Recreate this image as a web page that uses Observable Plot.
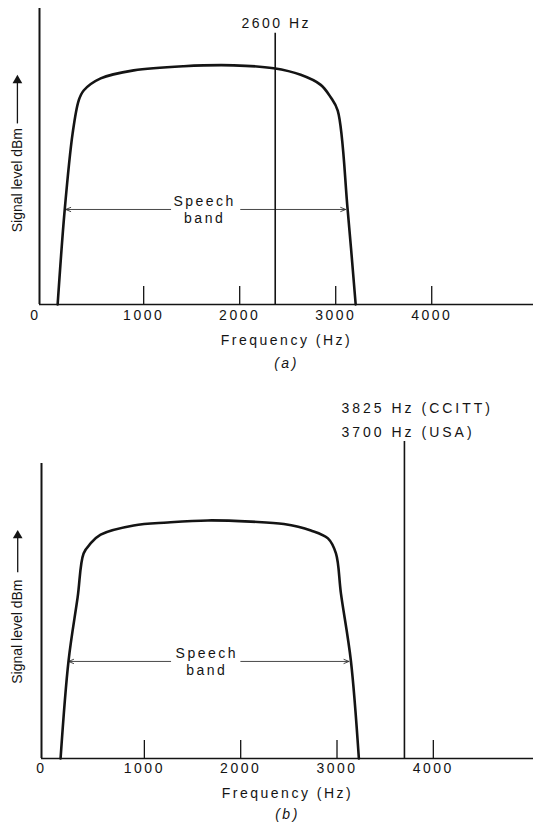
<!DOCTYPE html>
<html>
<head>
<meta charset="utf-8">
<script src="https://cdn.jsdelivr.net/npm/d3@7"></script>
<script src="https://cdn.jsdelivr.net/npm/@observablehq/plot@0.6"></script>
<style>
  html, body { margin: 0; padding: 0; background: #fff; }
  #chart svg { display: block; }
</style>
</head>
<body>
<div id="chart"></div>
<script>
// ---- Panel (a): speech band with in-band 2600 Hz signalling tone ----
const freqA  = [104, 177, 260, 323, 375, 552, 896, 1417, 1938, 2354, 2635, 2844, 2948, 3021, 3125, 3208];
const levelA = [0, 31.8, 57.8, 68.9, 72.3, 76.4, 79.1, 80.5, 80.8, 79.8, 77.6, 74.2, 70.0, 65.5, 31.8, 0];
const toneFreqA  = [2370];
const toneLevelA = [91.6];
const toneLabelA = ["2600 Hz"];
const bandArrowFromA = [1281, 2010];
const bandArrowToA   = [188, 3104];
const bandLevelA = 32.1;
const bandLabelFreqA = 1635;

// ---- Panel (b): speech band with out-of-band signalling tone ----
const freqB  = [130, 213, 307, 369, 442, 546, 889, 1242, 1658, 2105, 2448, 2729, 2906, 2989, 3041, 3144, 3227];
const levelB = [0, 33.2, 54.6, 69.5, 72.9, 75.9, 79.0, 80.0, 80.7, 80.3, 79.5, 77.3, 74.6, 69.5, 55.9, 33.2, 0];
const toneFreqB  = [3700];
const toneLevelB = [107.5];
const toneLabelB = ["3825 Hz (CCITT)\n3700 Hz (USA)"];
const bandArrowFromB = [1273, 2001];
const bandArrowToB   = [213, 3124];
const bandLevelB = 32.9;
const bandLabelFreqB = 1648;

// ---- shared axis text ----
const tickValues = [1000, 2000, 3000, 4000];
const tickLabels = ["1000", "2000", "3000", "4000"];
const zeroLabel = "0";
const xTitle = "Frequency (Hz)";
const yTitle = "Signal level dBm";
const bandLabel = "Speech\nband";
const panelLabels = ["(a)", "(b)"];

const INK = "#141414";
const FONT = "'Liberation Sans', Arial, Helvetica, sans-serif";

function panel(cfg) {
  const curve = cfg.freq.map((f, i) => ({f, v: cfg.level[i]}));
  const tones = cfg.toneFreq.map((f, i) => ({f, v: cfg.toneLevel[i], label: cfg.toneLabel[i]}));
  const arrows = cfg.arrowFrom.map((f, i) => ({x1: f, x2: cfg.arrowTo[i], v: cfg.bandLevel}));
  const xs = cfg.xDomain[0];
  const yLabX = -315;

  const svg = Plot.plot({
    width: 533,
    height: cfg.height,
    marginLeft: cfg.marginLeft,
    marginRight: 0,
    marginTop: cfg.marginTop,
    marginBottom: cfg.marginBottom,
    x: {domain: cfg.xDomain, axis: null},
    y: {domain: [0, 100], axis: null},
    style: {fontFamily: FONT, fontSize: "14px", color: INK, letterSpacing: "2.5px", background: "#fff", overflow: "visible"},
    marks: [
      // axis frame
      Plot.ruleX([xs], {y1: 0, y2: 100, stroke: INK, strokeWidth: 2}),
      Plot.ruleY([0], {stroke: INK, strokeWidth: 1.6}),
      Plot.ruleX(tickValues, {y1: 0, y2: 6.1, stroke: INK, strokeWidth: 1.3}),
      Plot.text(tickLabels, {x: (d, i) => tickValues[i], text: d => d, frameAnchor: "bottom", dy: cfg.tickDy, fill: INK}),
      Plot.text([zeroLabel], {x: xs, text: d => d, frameAnchor: "bottom", dy: cfg.tickDy, dx: cfg.zeroDx, fill: INK}),
      Plot.text([xTitle], {text: d => d, frameAnchor: "bottom", dy: cfg.titleDy, fill: INK}),
      Plot.text([cfg.panelLabel], {text: d => d, frameAnchor: "bottom", dy: cfg.captionDy, fill: INK, fontStyle: "italic"}),
      // y label with arrow
      Plot.text([yTitle], {x: yLabX, y: cfg.yLabLevel, text: d => d, rotate: -90, fontSize: 14, fill: INK}),
      Plot.ruleX([yLabX], {y1: cfg.yArrow[0], y2: cfg.yArrow[1], stroke: INK, strokeWidth: 1.3}),
      Plot.dot([yLabX], {x: d => d, y: cfg.yArrow[1], symbol: "triangle", r: 3.6, fill: INK, stroke: "none"}),
      // speech band arrows
      Plot.arrow(arrows, {x1: "x1", x2: "x2", y1: "v", y2: "v", stroke: "#333", strokeWidth: 0.9, headLength: 9, headAngle: 45}),
      Plot.text([bandLabel], {x: cfg.bandLabelFreq, y: cfg.bandLevel, text: d => d, lineHeight: 1.2, fill: INK}),
      // spectrum envelope
      Plot.line(curve, {x: "f", y: "v", curve: "catmull-rom", stroke: INK, strokeWidth: 2.6, strokeLinejoin: "round"}),
      // signalling tone
      Plot.ruleX(tones, {x: "f", y1: 0, y2: "v", stroke: INK, strokeWidth: 1.6}),
      Plot.text(tones, {x: "f", y: "v", text: "label", dy: cfg.toneDy, dx: cfg.toneDx, textAnchor: cfg.toneAnchor, lineHeight: cfg.toneLineHeight, fill: INK})
    ]
  });
  d3.select(svg).selectAll("text").filter(function() { return this.textContent === yTitle; }).style("letter-spacing", "0px");
  if (cfg.toneSpacing) {
    d3.select(svg).selectAll("text").filter(function() { return this.textContent.includes("CCITT"); }).style("letter-spacing", cfg.toneSpacing);
  }
  return svg;
}

const root = document.getElementById("chart");
root.append(panel({
  height: 380, marginLeft: 39, marginTop: 8, marginBottom: 76,
  xDomain: [-85, 5060],
  freq: freqA, level: levelA,
  toneFreq: toneFreqA, toneLevel: toneLevelA, toneLabel: toneLabelA,
  toneDy: -10, toneDx: 1, toneAnchor: "middle", toneLineHeight: 1,
  arrowFrom: bandArrowFromA, arrowTo: bandArrowToA, bandLevel: bandLevelA, bandLabelFreq: bandLabelFreqA,
  tickDy: 15, zeroDx: -4, titleDy: 40, captionDy: 63, panelLabel: panelLabels[0],
  yLabLevel: 42, yArrow: [61, 75.7]
}));
root.append(panel({
  height: 448, marginLeft: 41, marginTop: 83, marginBottom: 70,
  xDomain: [-68, 5040],
  freq: freqB, level: levelB,
  toneFreq: toneFreqB, toneLevel: toneLevelB, toneLabel: toneLabelB,
  toneDy: -24, toneDx: -63, toneAnchor: "start", toneLineHeight: 1.7, toneSpacing: "3px",
  arrowFrom: bandArrowFromB, arrowTo: bandArrowToB, bandLevel: bandLevelB, bandLabelFreq: bandLabelFreqB,
  tickDy: 14, zeroDx: 0, titleDy: 39, captionDy: 60, panelLabel: panelLabels[1],
  yLabLevel: 43, yArrow: [63, 75.6]
}));
</script>
</body>
</html>
